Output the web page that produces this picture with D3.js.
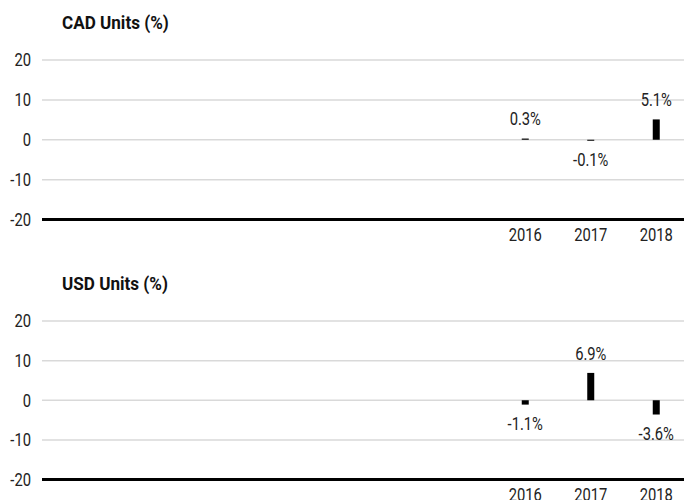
<!DOCTYPE html>
<html>
<head>
<meta charset="utf-8">
<script src="https://cdn.jsdelivr.net/npm/d3@7"></script>
<style>
    body { margin: 0; background: #fff; }
    text { font-family: "Roboto", sans-serif; }
</style>
</head>
<body>
<svg id="drawing_region"></svg>
<script>
// years on the x axis (only the last three carry data)
const years = ['2009', '2010', '2011', '2012', '2013', '2014', '2015', '2016', '2017', '2018'];
const labelled_years = ['2016', '2017', '2018'];
const cad_values = [0.3, -0.1, 5.1];
const usd_values = [-1.1, 6.9, -3.6];
const y_ticks = [-20, -10, 0, 10, 20];

const panels = [
    { title: 'CAD Units (%)', values: cad_values, top: 60, bottom: 219.5, title_y: 22 },
    { title: 'USD Units (%)', values: usd_values, top: 321, bottom: 479.5, title_y: 283 }
];

const svg = d3.select('#drawing_region')
    .attr('width', 684)
    .attr('height', 500);

const xscale = d3.scaleBand()
    .domain(years)
    .range([34, 689]);

const grid_left = 42;
const grid_right = 684;

// text placed at (x, y), squeezed horizontally (the original uses a condensed face)
function label(g, x, y, str, anchor, weight, size, squeeze) {
    return g.append('text')
        .attr('transform', `translate(${x}, ${y}) scale(${squeeze || 0.82}, 1)`)
        .attr('dy', '0.35em')
        .attr('text-anchor', anchor)
        .style('font-size', (size || 18) + 'px')
        .style('font-weight', weight || 'normal')
        .attr('fill', '#222')
        .text(str);
}

const fmt = v => (v < 0 ? '-' : '') + Math.abs(v).toFixed(1) + '%';

panels.forEach(p => {
    const g = svg.append('g');

    const yscale = d3.scaleLinear()
        .domain([-20, 20])
        .range([p.bottom, p.top]);

    // title
    label(g, 62, p.title_y, p.title, 'start', 'bold', 19, 0.9).attr('fill', '#111');

    // grid lines
    g.selectAll('.grid')
        .data(y_ticks.filter(t => t > -20))
        .enter()
        .append('line')
        .attr('x1', grid_left)
        .attr('x2', grid_right)
        .attr('y1', d => yscale(d))
        .attr('y2', d => yscale(d))
        .attr('stroke', '#d9d9d9')
        .attr('stroke-width', 1.5);

    // y tick labels
    y_ticks.forEach(t => label(g, 31, yscale(t), t < 0 ? '-' + Math.abs(t) : String(t), 'end'));

    // bars
    const data = labelled_years.map((y, i) => ({ year: y, value: p.values[i] }));
    const bw = 7;
    const cx = d => xscale(d) + xscale.bandwidth() / 2;

    g.selectAll('rect')
        .data(data)
        .enter()
        .append('rect')
        .attr('x', d => cx(d.year) - bw / 2)
        .attr('y', d => yscale(Math.max(0, d.value)))
        .attr('width', bw)
        .attr('height', d => Math.max(1, Math.abs(yscale(d.value) - yscale(0))))
        .attr('fill', '#000');

    // value labels
    data.forEach(d => {
        const y = d.value >= 0 ? yscale(d.value) - 19.5 : yscale(d.value) + 19.5;
        label(g, cx(d.year), y, fmt(d.value), 'middle');
    });

    // baseline axis
    g.append('line')
        .attr('x1', grid_left)
        .attr('x2', grid_right)
        .attr('y1', yscale(-20))
        .attr('y2', yscale(-20))
        .attr('stroke', '#000')
        .attr('stroke-width', 3);

    // year labels
    labelled_years.forEach(yr => label(g, cx(yr), yscale(-20) + 15, yr, 'middle'));
});
</script>
</body>
</html>
